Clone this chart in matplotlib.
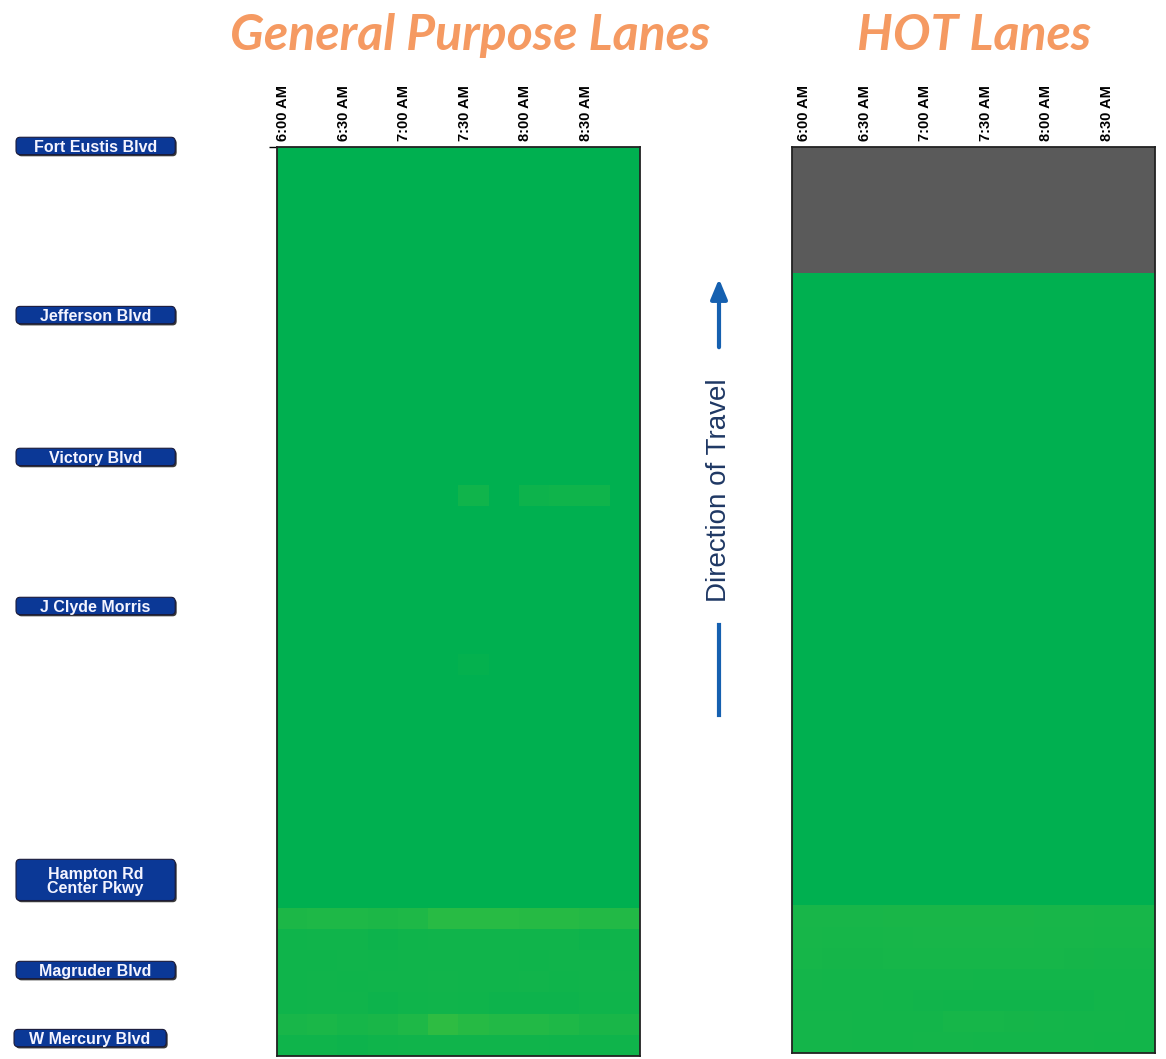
import numpy as np
import matplotlib
matplotlib.use('Agg')
import matplotlib.pyplot as plt
from matplotlib.colors import LinearSegmentedColormap
from matplotlib.patches import FancyBboxPatch, FancyArrowPatch
from matplotlib.lines import Line2D

# 15-min bins 6:00-9:00, 43 segments from Fort Eustis (top) to W Mercury (bottom)
time_labels = ['6:00 AM', '6:30 AM', '7:00 AM', '7:30 AM', '8:00 AM', '8:30 AM']
n_bins = 12
n_segs = 43
freeflow = 65.0

# interchange names and their position along the segment axis
interchanges = ['Fort Eustis Blvd', 'Jefferson Blvd', 'Victory Blvd', 'J Clyde Morris',
                'Hampton Rd\nCenter Pkwy', 'Magruder Blvd', 'W Mercury Blvd']
interchange_pos = [-0.05, 7.95, 14.66, 21.71, 34.67, 38.93, 42.15]

# General purpose lanes: speeds (mph), free flow everywhere except these segments
gp_speed = np.full((n_segs, n_bins), freeflow)
gp_speed[16] = [65, 65, 65, 65, 65, 65, 63.4, 65, 63.6, 63.5, 63.5, 65]
gp_speed[24] = [65, 65, 65, 65, 65, 65, 64.5, 65, 65, 65, 65, 65]
gp_speed[36] = [62.2, 62.0, 62.0, 62.2, 62.0, 61.0, 61.0, 61.0, 61.2, 61.2, 61.5, 61.6]
gp_speed[37] = [63.5, 63.4, 63.4, 63.6, 63.5, 63.4, 63.4, 63.4, 63.4, 63.4, 63.6, 63.5]
gp_speed[38] = [63.5, 63.5, 63.4, 63.5, 63.4, 63.4, 63.4, 63.4, 63.5, 63.4, 63.4, 63.5]
gp_speed[39] = [63.5, 63.4, 63.5, 63.4, 63.4, 63.3, 63.4, 63.4, 63.3, 63.5, 63.4, 63.4]
gp_speed[40] = [63.5, 63.4, 63.4, 63.6, 63.5, 63.4, 63.5, 63.6, 63.6, 63.6, 63.5, 63.5]
gp_speed[41] = [62.6, 62.4, 62.8, 62.5, 62.0, 60.5, 61.2, 61.6, 61.6, 62.0, 62.5, 62.5]
gp_speed[42] = [63.5, 63.5, 63.6, 63.5, 63.4, 63.4, 63.4, 63.4, 63.4, 63.5, 63.5, 63.5]

# HOT lanes: first 6 segments have no data (not open)
hot_speed = np.full((n_segs, n_bins), freeflow)
hot_speed[0:6] = np.nan
hot_speed[36] = [62.6, 62.6, 62.6, 62.5, 62.5, 62.5, 62.5, 62.5, 62.6, 62.6, 62.7, 62.7]
hot_speed[37] = [62.7, 62.8, 62.8, 62.7, 62.6, 62.6, 62.6, 62.6, 62.7, 62.7, 62.8, 62.8]
hot_speed[38] = [62.8, 62.9, 62.9, 62.8, 62.8, 62.8, 62.8, 62.8, 62.8, 62.9, 63.0, 63.0]
hot_speed[39] = [63.0, 63.1, 63.1, 63.1, 63.1, 63.1, 63.2, 63.2, 63.2, 63.2, 63.2, 63.2]
hot_speed[40] = [63.1, 63.1, 63.1, 63.2, 63.3, 63.4, 63.4, 63.4, 63.4, 63.4, 63.2, 63.2]
hot_speed[41] = [63.0, 63.0, 63.1, 63.1, 63.1, 62.8, 62.8, 62.9, 63.0, 63.1, 63.1, 63.2]
hot_speed[42] = [63.0, 63.0, 63.1, 63.1, 63.0, 63.0, 63.1, 63.1, 63.1, 63.1, 63.2, 63.2]

cmap = LinearSegmentedColormap.from_list('spd', ['#66CC33', '#00B050'])
cmap.set_bad('#5A5A5A')

fig = plt.figure(figsize=(11.66, 10.59), dpi=100)

ax_gp = fig.add_axes([0.2376, 0.0028, 0.3113, 0.8584])
ax_hot = fig.add_axes([0.6792, 0.0057, 0.3113, 0.8555])

for ax, data, off in [(ax_gp, gp_speed, 0.2), (ax_hot, hot_speed, 0.4)]:
    ax.imshow(np.ma.masked_invalid(data), cmap=cmap, vmin=55, vmax=65,
              aspect='auto', interpolation='nearest', extent=(0, n_bins, n_segs, 0))
    ax.xaxis.tick_top()
    ax.set_xticks(np.arange(0, n_bins, 2) + off)
    ax.set_xticklabels(time_labels, rotation=90, fontsize=10.5, fontweight='bold',
                       family='Liberation Sans')
    ax.tick_params(axis='x', length=0, pad=4)
    ax.set_yticks([])
    for s in ax.spines.values():
        s.set_linewidth(1.3)
        s.set_color('#222222')

ax_gp.set_yticks([0])
ax_gp.set_yticklabels([''])
ax_gp.tick_params(axis='y', length=6, width=1)

# interchange labels
ax_lab = fig.add_axes([0.0, 0.0028, 0.17, 0.8584])
ax_lab.set_xlim(0, 198)
ax_lab.set_ylim(n_segs, 0)
ax_lab.axis('off')
for name, y in zip(interchanges, interchange_pos):
    two = '\n' in name
    h = 1.95 if two else 0.82
    x0, x1 = (14, 166) if name.startswith('W ') else (16, 175)
    shadow = FancyBboxPatch((x0 + 1.5, y - h / 2 + 0.08), x1 - x0, h,
                            boxstyle='round,pad=0,rounding_size=4',
                            mutation_aspect=0.05, fc='#3a3a3a', ec='none', clip_on=False)
    box = FancyBboxPatch((x0, y - h / 2), x1 - x0, h,
                         boxstyle='round,pad=0,rounding_size=4',
                         mutation_aspect=0.05, fc='#0B3896', ec='#1a1a3a', lw=0.8,
                         clip_on=False)
    ax_lab.add_patch(shadow)
    ax_lab.add_patch(box)
    ax_lab.text((x0 + x1) / 2, y + 0.06, name, ha='center', va='center', color='#F4F4FF',
                fontsize=11.5, fontweight='bold', family='Liberation Sans',
                linespacing=0.95, clip_on=False)

# titles
title_kw = dict(ha='center', va='center', color='#F59A62', fontsize=36,
                fontweight='bold', style='italic', family=['Lato', 'DejaVu Sans'])
fig.text(470 / 1166, 1 - 36 / 1059, 'General Purpose Lanes', **title_kw)
fig.text(974 / 1166, 1 - 36 / 1059, 'HOT Lanes', **title_kw)

# direction of travel
xa = 719 / 1166
fig.add_artist(FancyArrowPatch(
    (xa, 1 - 350 / 1059), (xa, 1 - 276 / 1059), transform=fig.transFigure,
    arrowstyle='-|>,head_length=12,head_width=5', color='#1560B0', lw=3))
fig.add_artist(Line2D([xa, xa], [1 - 625 / 1059, 1 - 715 / 1059],
                      transform=fig.transFigure, color='#1560B0', lw=3))
fig.text(xa, 1 - 490 / 1059, 'Direction of Travel', rotation=90, ha='center', va='center',
         fontsize=20, color='#1F3864', family='Liberation Sans')

fig.savefig('out.png', dpi=100)
